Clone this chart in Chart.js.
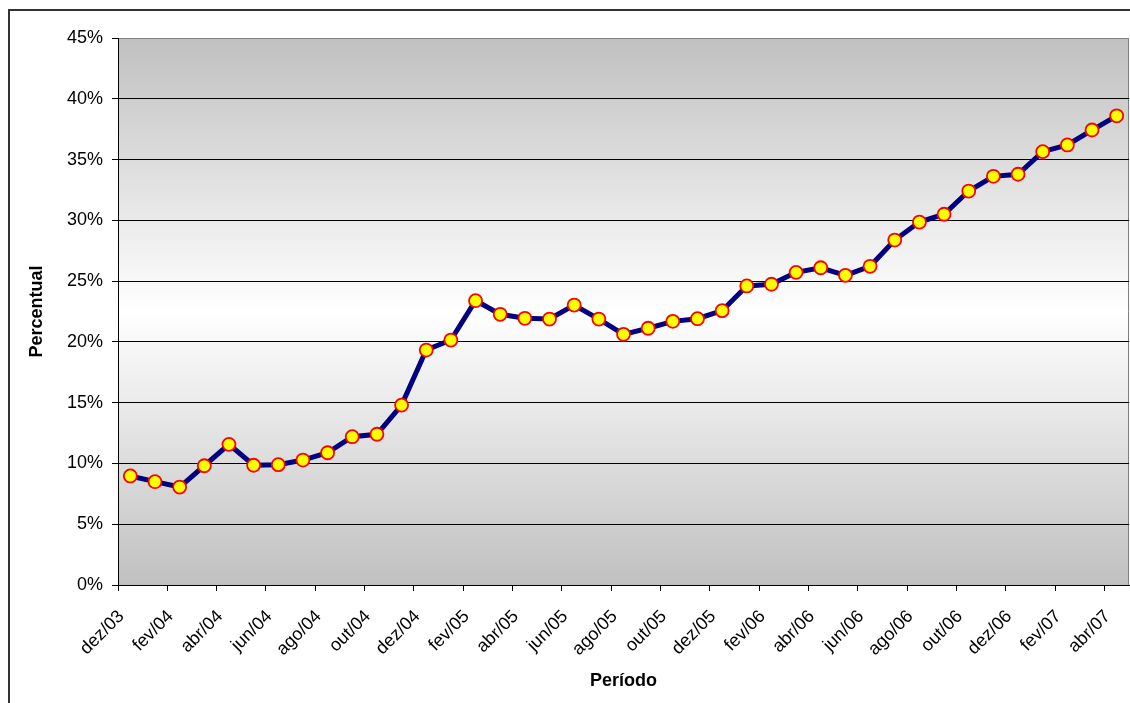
<!DOCTYPE html>
<html lang="pt">
<head>
<meta charset="utf-8">
<script src="https://cdn.jsdelivr.net/npm/chart.js@4"></script>
<style>
  html, body { margin: 0; padding: 0; background: #fff; overflow: hidden; }
  #moldura { position: absolute; left: 8px; top: 9px; width: 1200px; height: 800px;
             border-left: 2px solid #333; border-top: 2px solid #333; }
  #grafico { position: absolute; left: 0; top: 0; }
</style>
</head>
<body>
<div id="moldura"></div>
<canvas id="grafico" width="1130" height="703"></canvas>
<script>
var meses = [
    'dez/03', 'jan/04', 'fev/04', 'mar/04', 'abr/04', 'mai/04', 'jun/04', 'jul/04', 'ago/04', 'set/04', 'out/04', 'nov/04',
    'dez/04', 'jan/05', 'fev/05', 'mar/05', 'abr/05', 'mai/05', 'jun/05', 'jul/05', 'ago/05', 'set/05', 'out/05', 'nov/05',
    'dez/05', 'jan/06', 'fev/06', 'mar/06', 'abr/06', 'mai/06', 'jun/06', 'jul/06', 'ago/06', 'set/06', 'out/06', 'nov/06',
    'dez/06', 'jan/07', 'fev/07', 'mar/07', 'abr/07'
];

var percentual = [
    8.97, 8.50, 8.06, 9.81, 11.57, 9.85, 9.90, 10.28, 10.88, 12.2,
    12.4, 14.8, 19.33, 20.15, 23.39, 22.27, 21.94, 21.88, 23.03, 21.88,
    20.62, 21.12, 21.69, 21.91, 22.57, 24.6, 24.74, 25.72, 26.1, 25.48,
    26.22, 28.38, 29.86, 30.5, 32.41, 33.62, 33.79, 35.65, 36.2, 37.43,
    38.6
];

var yMin = 0, yMax = 45, yPasso = 5;

var fonte = 'Liberation Sans, Arial, sans-serif';

// fundo em degradê (cinza - branco - cinza) como no Excel
var fundoGradiente = {
    id: 'fundoGradiente',
    beforeDraw: function (chart) {
        var a = chart.chartArea;
        var ctx = chart.ctx;
        var g = ctx.createLinearGradient(0, a.top, 0, a.bottom);
        g.addColorStop(0, '#c0c0c0');
        g.addColorStop(0.5, '#ffffff');
        g.addColorStop(1, '#c0c0c0');
        ctx.save();
        ctx.fillStyle = g;
        ctx.fillRect(a.left, a.top, a.right - a.left, a.bottom - a.top);
        ctx.strokeStyle = '#808080';
        ctx.lineWidth = 1;
        ctx.beginPath();
        ctx.moveTo(Math.round(a.right) - 0.5, a.top);
        ctx.lineTo(Math.round(a.right) - 0.5, a.bottom);
        ctx.stroke();
        ctx.restore();
    }
};

var ctx = document.getElementById('grafico').getContext('2d');
var chart = new Chart(ctx, {
    type: 'line',
    data: {
        labels: meses,
        datasets: [{
            label: 'Percentual',
            data: percentual,
            borderColor: '#000080',
            borderWidth: 5,
            tension: 0,
            pointRadius: 6.5,
            pointBackgroundColor: '#ffff00',
            pointBorderColor: '#ff0000',
            pointBorderWidth: 1.8
        }]
    },
    options: {
        responsive: false,
        animation: false,
        layout: {
            autoPadding: false,
            padding: { left: 0, top: 38, right: 1, bottom: 0 }
        },
        scales: {
            x: {
                offset: true,
                afterFit: function (scale) {
                    scale.height = 118;
                    scale.paddingLeft = 0;
                    scale.paddingRight = 0;
                },
                border: { display: true, color: '#000', width: 1 },
                grid: {
                    offset: true,
                    drawOnChartArea: false,
                    tickLength: 6,
                    color: function (c) {
                        return c.index !== undefined && c.index % 2 === 0 ? '#000' : 'rgba(0,0,0,0)';
                    }
                },
                ticks: {
                    autoSkip: false,
                    maxRotation: 45,
                    minRotation: 45,
                    labelOffset: -9,
                    padding: 15,
                    color: '#000',
                    font: { family: fonte, size: 18 },
                    callback: function (val, i) {
                        return i % 2 === 0 ? this.getLabelForValue(val) : '';
                    }
                },
                title: {
                    display: true,
                    text: 'Período',
                    color: '#000',
                    font: { family: fonte, size: 18, weight: 'bold' },
                    padding: { top: 0, bottom: 11 }
                }
            },
            y: {
                min: yMin,
                max: yMax,
                afterFit: function (scale) { scale.width = 118; },
                border: { display: true, color: '#000', width: 1 },
                grid: {
                    tickLength: 6,
                    tickColor: '#000',
                    color: function (c) {
                        return c.tick && c.tick.value === yMax ? '#808080' : '#000';
                    }
                },
                ticks: {
                    stepSize: yPasso,
                    padding: 9,
                    color: '#000',
                    font: { family: fonte, size: 18 },
                    callback: function (value) {
                        return value + '%';
                    }
                },
                title: {
                    display: true,
                    text: 'Percentual',
                    color: '#000',
                    font: { family: fonte, size: 18, weight: 'bold' },
                    padding: { top: 26, bottom: 0 }
                }
            }
        },
        plugins: {
            legend: { display: false },
            tooltip: { enabled: false }
        }
    },
    plugins: [fundoGradiente]
});
</script>
</body>
</html>
